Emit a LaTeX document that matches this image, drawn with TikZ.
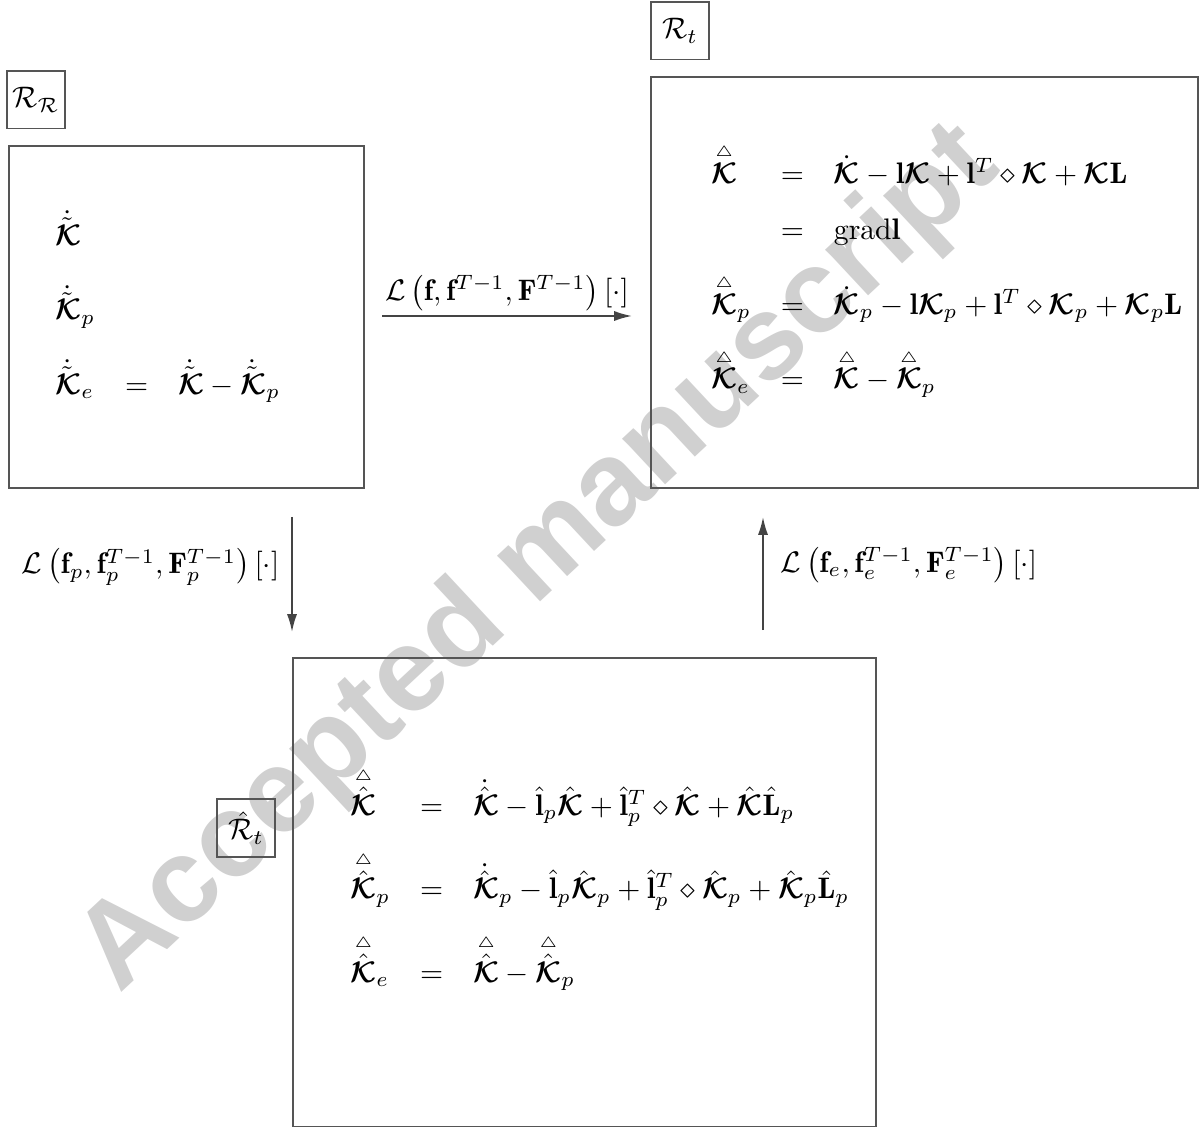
\documentclass[tikz,border=0pt]{standalone}
\usepackage{amsmath}
\usepackage{amssymb}
\usepackage{bm}
\usepackage{fontspec}
\newfontfamily\wmfont{Liberation Sans}
\usetikzlibrary{matrix,arrows.meta}
\newcommand{\bK}{\bm{\mathcal{K}}}
\newcommand{\tri}[1]{\overset{\scriptscriptstyle\triangle}{#1}}
\definecolor{framegray}{HTML}{555555}
\definecolor{arrowgray}{HTML}{444444}
\definecolor{wmgray}{HTML}{D0D0D0}
\tikzset{
  frame/.style={draw=framegray, line width=0.67pt, inner sep=0pt, anchor=north west},
  tag/.style={draw=framegray, line width=0.67pt, inner sep=0pt, minimum width=19.5pt, minimum height=19.2pt},
  arr/.style={draw=arrowgray, line width=0.6pt, -{Latex[length=6pt,width=3.4pt]}},
  eqs/.style={matrix of math nodes, inner sep=0pt, column sep=10.1pt, row sep=9.1pt, anchor=north west,
    nodes={anchor=base west, inner sep=0pt, text height=12pt, text depth=4pt}},
}
\begin{document}
\begin{tikzpicture}[x=0.3367pt, y=-0.3367pt]
\useasboundingbox (0,0) rectangle (1204,1127);
\node[rotate=43, text=wmgray, font=\wmfont\bfseries\fontsize{40}{44}\selectfont] (wm) at (540,560) {Accepted manuscript};

\node[frame, minimum width=119.5pt, minimum height=115.2pt] (boxR) at (8,145) {};
\node[frame, minimum width=184.2pt, minimum height=138.4pt] (boxt) at (650,76) {};
\node[frame, minimum width=196.3pt, minimum height=157.9pt] (boxh) at (292,657) {};
\node[tag] (tagR) at (36,100) {$\mathcal{R}_{\mathcal{R}}$};
\node[tag] (tagt) at (680,31) {$\mathcal{R}_t$};
\node[tag] (tagh) at (246,828) {$\hat{\mathcal{R}}_t$};

\matrix[eqs, name=mR] at (55,209) {
  \dot{\tilde{\bK}} \\
  \dot{\tilde{\bK}}_p \\
  \dot{\tilde{\bK}}_e & = & \dot{\tilde{\bK}} - \dot{\tilde{\bK}}_p \\ };
\matrix[eqs, name=mt] at (710,147) {
  \tri{\bK} & = & \dot{\bK} - \mathbf{l}\bK + \mathbf{l}^T \diamond \bK + \bK\mathbf{L} \\[-6.1pt]
   & = & \mathrm{grad}\mathbf{l} \\
  \tri{\bK}_p & = & \dot{\bK}_p - \mathbf{l}\bK_p + \mathbf{l}^T \diamond \bK_p + \bK_p\mathbf{L} \\
  \tri{\bK}_e & = & \tri{\bK} - \tri{\bK}_p \\ };
\matrix[eqs, name=mh, row sep=12.1pt] at (350,779) {
  \tri{\hat{\bK}} & = & \dot{\hat{\bK}} - \hat{\mathbf{l}}_p\hat{\bK} + \hat{\mathbf{l}}_p^T \diamond \hat{\bK} + \hat{\bK}\hat{\mathbf{L}}_p \\
  \tri{\hat{\bK}}_p & = & \dot{\hat{\bK}}_p - \hat{\mathbf{l}}_p\hat{\bK}_p + \hat{\mathbf{l}}_p^T \diamond \hat{\bK}_p + \hat{\bK}_p\hat{\mathbf{L}}_p \\
  \tri{\hat{\bK}}_e & = & \tri{\hat{\bK}} - \tri{\hat{\bK}}_p \\ };

\coordinate (a1) at (382,316);
\coordinate (a2) at (632,316);
\coordinate (b1) at (292,517);
\coordinate (b2) at (292,632);
\coordinate (c1) at (763,630);
\coordinate (c2) at (763,517);
\draw[arr] (a1) -- node[above, inner sep=1.5pt] (la) {$\mathcal{L}\left(\mathbf{f},\mathbf{f}^{T-1},\mathbf{F}^{T-1}\right)[\cdot]$} (a2);
\draw[arr] (b1) -- (b2);
\draw[arr] (c1) -- (c2);
\node[anchor=east, inner sep=0pt] (lb) at (280,567) {$\mathcal{L}\left(\mathbf{f}_p,\mathbf{f}_p^{T-1},\mathbf{F}_p^{T-1}\right)[\cdot]$};
\node[anchor=west, inner sep=0pt] (lc) at (780,565) {$\mathcal{L}\left(\mathbf{f}_e,\mathbf{f}_e^{T-1},\mathbf{F}_e^{T-1}\right)[\cdot]$};
\end{tikzpicture}
\end{document}
